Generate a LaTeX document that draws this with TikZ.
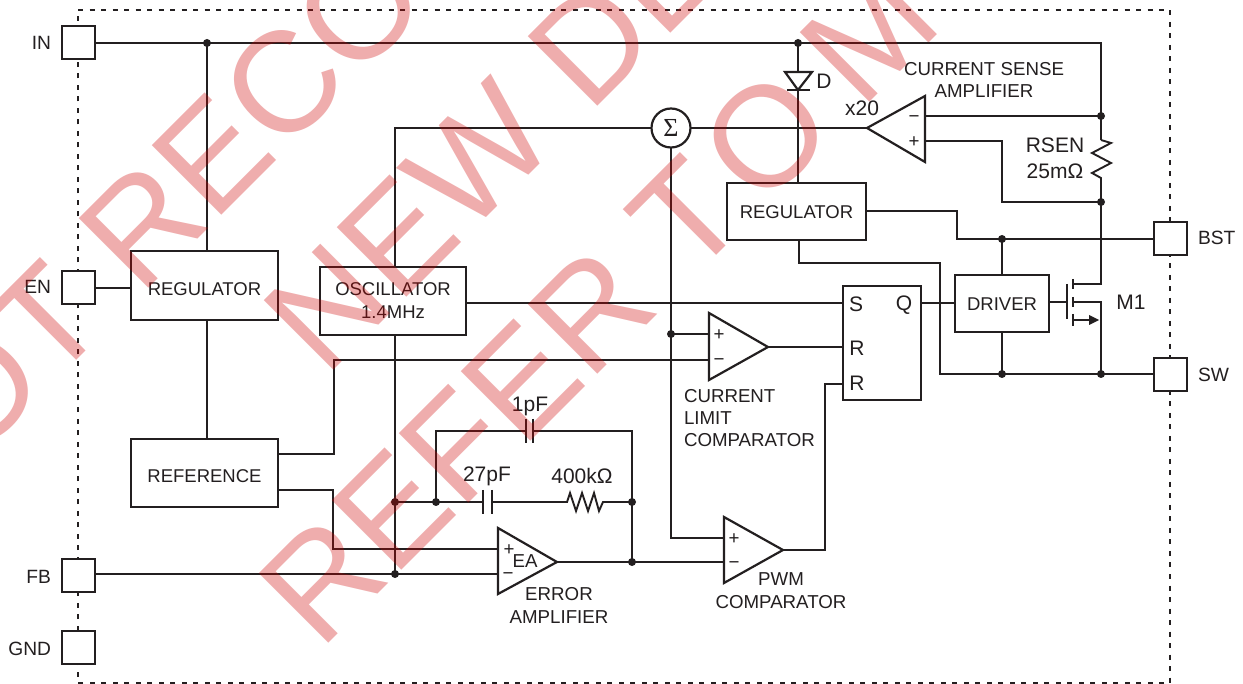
\documentclass[tikz,border=0pt]{standalone}
\usepackage{fontspec}
\setmainfont{Liberation Sans}
\newfontfamily\sigmafont{Liberation Serif}
\definecolor{ink}{HTML}{231F20}
\definecolor{wm}{RGB}{206,3,3}
\tikzset{
  wire/.style={draw=ink,line width=1.9pt,line join=miter},
  box/.style={draw=ink,line width=2.2pt,fill=none,inner sep=0pt,outer sep=0pt,text=ink,font=\fontsize{18.5}{23}\selectfont,align=center},
  pad/.style={draw=ink,line width=2.4pt,fill=white,inner sep=0pt,outer sep=0pt,minimum width=33pt,minimum height=33pt},
  dot/.style={circle,fill=ink,inner sep=0pt,outer sep=0pt,minimum size=8pt},
  lab/.style={text=ink,inner sep=0pt,outer sep=0pt,font=\fontsize{18.7}{22}\selectfont,text height=13pt,text depth=0pt},
  plab/.style={lab,font=\fontsize{19.2}{22}\selectfont,text height=14pt},
  vlab/.style={lab,font=\fontsize{21}{22}\selectfont,text height=15pt},
  amp/.style={draw=ink,line width=2.2pt,line join=miter},
  wmtext/.style={text=wm,text opacity=0.32,rotate=45,anchor=base west,inner sep=0pt,font=\fontsize{143}{143}\selectfont},
}
\begin{document}
\begin{tikzpicture}[x=1pt,y=-1pt]
\useasboundingbox (0,0) rectangle (1243,684);
\fill[white] (0,0) rectangle (1243,684);
% package outline
\coordinate (bTL) at (78,10);
\coordinate (bTR) at (1170,10);
\coordinate (bBR) at (1170,683);
\coordinate (bBL) at (78,683);
\draw[draw=ink,line width=2pt,dash pattern=on 5pt off 6.5pt] (bTL) -- (bTR) -- (bBR) -- (bBL) -- cycle;
% pads
\node[pad] (IN) at (78.5,42.5) {};
\node[pad] (EN) at (78.5,287.5) {};
\node[pad] (FB) at (78.5,575.5) {};
\node[pad] (GND) at (78.5,647.5) {};
\node[pad] (BST) at (1170.5,238.5) {};
\node[pad] (SW) at (1170.5,374.5) {};
\node[plab,anchor=east] (lIN) at (51,43) {IN};
\node[plab,anchor=east] (lEN) at (51,287) {EN};
\node[plab,anchor=east] (lFB) at (51,576) {FB};
\node[plab,anchor=east] (lGND) at (51,648) {GND};
\node[plab,anchor=west] (lBST) at (1198,238) {BST};
\node[plab,anchor=west] (lSW) at (1198,375) {SW};
% boxes
\node[box,minimum width=147pt,minimum height=69pt] (reg1) at (204.5,285.5) {\raisebox{-3.5pt}[\height][0pt]{REGULATOR}};
\node[box,minimum width=146pt,minimum height=68pt] (osc) at (393,301) {OSCILLATOR\\1.4MHz};
\node[box,minimum width=147pt,minimum height=68pt] (ref) at (204.5,473) {\raisebox{-3pt}[\height][0pt]{REFERENCE}};
\node[box,minimum width=139pt,minimum height=57pt] (reg2) at (796.5,211.5) {\raisebox{-1pt}[\height][0pt]{REGULATOR}};
\node[box,minimum width=94pt,minimum height=57pt] (drv) at (1002,303.5) {\raisebox{-1pt}[\height][0pt]{DRIVER}};
\node[box,minimum width=78pt,minimum height=114pt] (ff) at (882,343) {};
\node[vlab] (fS) at (856,304) {S};
\node[vlab] (fQ) at (904,303) {Q};
\node[vlab] (fR1) at (857,348) {R};
\node[vlab] (fR2) at (857,383) {R};
\node[circle,draw=ink,line width=2.2pt,fill=white,minimum size=39pt,inner sep=0pt,outer sep=0pt,text=ink,font=\sigmafont\fontsize{26}{26}\selectfont] (sum) at (671,128) {Σ};
% junctions
\node[dot] (j1) at (207,43) {};
\node[dot] (j2) at (798,43) {};
\node[dot] (j3) at (1101,116) {};
\node[dot] (j4) at (1101,202) {};
\node[dot] (j5) at (1002,239) {};
\node[dot] (j6) at (1002,374) {};
\node[dot] (j7) at (1101,374) {};
\node[dot] (j8) at (671,334) {};
\node[dot] (j9) at (395,502) {};
\node[dot] (j10) at (436,502) {};
\node[dot] (j11) at (632,502) {};
\node[dot] (j12) at (632,562) {};
\node[dot] (j13) at (395,574) {};
% amplifiers
\coordinate (csTip) at (867,128); \coordinate (csTop) at (925,96); \coordinate (csBot) at (925,162);
\coordinate (csM) at (925,116); \coordinate (csP) at (925,141);
\draw[amp] (csTip) -- (csTop) -- (csBot) -- cycle;
\coordinate (clTip) at (768,347); \coordinate (clTop) at (709,313); \coordinate (clBot) at (709,380);
\coordinate (clP) at (709,334); \coordinate (clM) at (709,360);
\draw[amp] (clTip) -- (clTop) -- (clBot) -- cycle;
\coordinate (eaTip) at (557,562); \coordinate (eaTop) at (498,528); \coordinate (eaBot) at (498,594);
\coordinate (eaP) at (498,549); \coordinate (eaM) at (498,574);
\draw[amp] (eaTip) -- (eaTop) -- (eaBot) -- cycle;
\coordinate (pwTip) at (783,550); \coordinate (pwTop) at (724,517); \coordinate (pwBot) at (724,583);
\coordinate (pwP) at (724,538); \coordinate (pwM) at (724,562);
\draw[amp] (pwTip) -- (pwTop) -- (pwBot) -- cycle;
\node[lab] (csm) at (914,116) {−};
\node[lab] (csp) at (914,141) {+};
\node[lab] (clp) at (719,334) {+};
\node[lab] (clm) at (719,359) {−};
\node[lab] (eap) at (509,549) {+};
\node[lab] (eam) at (508,573) {−};
\node[lab] (eat) at (525,561) {EA};
\node[lab] (pwp) at (734,538) {+};
\node[lab] (pwm) at (734,562) {−};
% labels
\node[lab] (t1) at (984,69) {CURRENT SENSE};
\node[lab] (t2) at (984,91) {AMPLIFIER};
\node[vlab] (t3) at (862,108) {x20};
\node[vlab] (t4) at (824,81) {D};
\node[vlab] (t5) at (1055,145) {RSEN};
\node[vlab] (t6) at (1055,171) {25mΩ};
\node[vlab] (t7) at (1131,302) {M1};
\node[lab,anchor=west] (t8) at (684,396) {CURRENT};
\node[lab,anchor=west] (t9) at (684,418) {LIMIT};
\node[lab,anchor=west] (t10) at (684,440) {COMPARATOR};
\node[vlab] (t11) at (530,404) {1pF};
\node[vlab] (t12) at (487,474) {27pF};
\node[vlab] (t13) at (582,476) {400kΩ};
\node[lab] (t14) at (559,594) {ERROR};
\node[lab] (t15) at (559,617) {AMPLIFIER};
\node[lab] (t16) at (781,579) {PWM};
\node[lab] (t17) at (781,602) {COMPARATOR};
% wires: top rail
\draw[wire] (IN.east |- j1) -- (j1.center) -- (j2.center) -- (1101,43) -- (j3.center) -- (1101,140);
\draw[wire] (j1.center) -- (j1.center |- reg1.north);
\draw[wire] (reg1.south -| j1) -- (ref.north -| j1);
\draw[wire] (EN.east |- 0,288) -- (reg1.west |- 0,288);
% diode
\coordinate (dA) at (798,72); \coordinate (dK) at (798,90);
\draw[wire] (j2.center) -- (dA);
\draw[wire] (dK) -- (reg2.north -| dK);
\draw[amp] (785,72) -- (812,72) -- (dK) -- cycle;
\draw[amp] (787,90) -- (810,90);
% sum
\draw[wire] (sum.west) -- (395,128) -- (395,128 |- osc.north);
\draw[wire] (sum.east) -- (csTip);
\draw[wire] (sum.south) -- (j8.center) -- (671,538) -- (pwP);
\draw[wire] (j8.center) -- (clP);
\draw[wire] (csM) -- (j3.center);
\draw[wire] (csP) -- (1002,141) -- (1002,202) -- (j4.center);
% RSEN
\draw[wire] (1101,140) -- (1111,143) -- (1092,153) -- (1111,163) -- (1092,173) -- (1101,178) -- (j4.center) -- (1101,284) -- (1073,284);
% reg2 outputs
\draw[wire] (reg2.east |- 0,211) -- (957,211) -- (957,239) -- (j5.center) -- (BST.west |- j5);
\draw[wire] (j5.center) -- (drv.north -| j5);
\draw[wire] (reg2.south -| 799,0) -- (799,263) -- (940,263) -- (940,374) -- (j6.center) -- (j7.center) -- (SW.west |- j7);
\draw[wire] (drv.south -| j6) -- (j6.center);
% osc, ff
\draw[wire] (osc.east |- 0,303) -- (ff.west |- 0,303);
\draw[wire] (ff.east |- 0,303) -- (drv.west |- 0,303);
\draw[wire] (clTip) -- (clTip -| ff.west);
\draw[wire] (osc.south -| j9) -- (j9.center) -- (j13.center);
% FET
\coordinate (gG) at (1067,302);
\draw[wire] (drv.east |- gG) -- (gG);
\draw[amp] (1067,284) -- (1067,319);
\draw[amp] (1073,279) -- (1073,289);
\draw[amp] (1073,297) -- (1073,307);
\draw[amp] (1073,314) -- (1073,326);
\draw[wire] (1073,302) -- (1101,302) -- (j7.center);
\draw[wire] (1073,320) -- (1090,320);
\fill[ink] (1099,320) -- (1089,315) -- (1089,325) -- cycle;
% reference outputs
\draw[wire] (ref.east |- 0,454) -- (334,454) -- (334,360) -- (clM);
\draw[wire] (ref.east |- 0,490) -- (333,490) -- (333,549) -- (eaP);
% FB
\draw[wire] (FB.east |- j13) -- (j13.center) -- (eaM);
% compensation
\coordinate (c1L) at (526,431); \coordinate (c1R) at (533,431);
\coordinate (c2L) at (483,502); \coordinate (c2R) at (492,502);
\draw[wire] (j9.center) -- (j10.center) -- (c2L);
\draw[wire] (j10.center) -- (436,431) -- (c1L);
\draw[wire] (c1R) -- (632,431) -- (j11.center) -- (j12.center);
\draw[amp] (526,419) -- (526,443);
\draw[amp] (533,419) -- (533,443);
\draw[amp] (483,490) -- (483,514);
\draw[amp] (492,490) -- (492,514);
\draw[wire] (c2R) -- (567,502) -- (570,493) -- (576,511) -- (582,493) -- (588,511) -- (594,493) -- (599,511) -- (603,502) -- (j11.center);
\draw[wire] (eaTip) -- (j12.center) -- (pwM);
\draw[wire] (pwTip) -- (825,550) -- (825,384) -- (ff.west |- 0,384);
% watermark
\begin{scope}
\clip (0,0) rectangle (1243,684);
\node[wmtext] (w1) at (-101,538) {NOT RECO};
\node[wmtext] (w2) at (325,379) {NEW DE};
\node[wmtext] (w3) at (320,652) {REFER T\kern13pt O\kern-10pt\ M};
\end{scope}
\end{tikzpicture}
\end{document}
